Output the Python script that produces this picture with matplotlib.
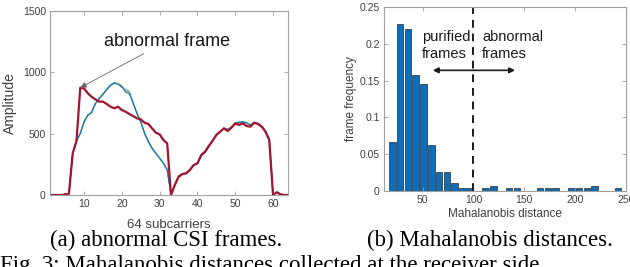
import matplotlib
matplotlib.use("Agg")
import matplotlib.pyplot as plt
import numpy as np

plt.rcParams['font.family'] = ['Liberation Sans', 'DejaVu Sans']

# ---- (a) CSI amplitudes over 64 subcarriers ----
subcarriers = list(range(1, 65))
normal_frames = [
    [0, 0, 0, 0, 5, 10, 340, 440, 505, 597, 652, 671, 747, 785, 820, 861, 896, 915, 906, 883, 856, 842,
     747, 666, 598, 503, 435, 380, 340, 299, 258, 204, 0, 81, 149, 171, 177, 204, 244, 258, 326, 353,
     399, 442, 489, 516, 543, 535, 555, 584, 590, 595, 585, 570, 590, 585, 560, 520, 455, 0, 22, 5, 0, 0],
    [0, 0, 0, 0, 4, 12, 335, 445, 500, 590, 645, 680, 740, 790, 825, 855, 890, 910, 912, 890, 850, 835,
     755, 660, 590, 510, 440, 385, 335, 305, 262, 210, 0, 78, 140, 165, 180, 210, 240, 262, 320, 358,
     405, 438, 495, 510, 548, 528, 560, 578, 585, 600, 580, 575, 585, 580, 565, 515, 448, 0, 20, 5, 0, 0],
    [0, 0, 0, 0, 6, 9, 345, 438, 510, 600, 655, 665, 750, 780, 815, 865, 900, 918, 900, 878, 860, 845,
     740, 670, 602, 498, 430, 375, 345, 295, 255, 200, 0, 85, 152, 168, 172, 200, 248, 255, 330, 350,
     395, 445, 485, 520, 540, 540, 550, 590, 595, 590, 588, 565, 595, 588, 555, 525, 460, 0, 24, 5, 0, 0],
    [0, 0, 0, 0, 5, 11, 338, 442, 498, 595, 650, 675, 745, 788, 822, 858, 893, 912, 904, 885, 838, 826,
     752, 664, 596, 506, 438, 382, 338, 302, 260, 206, 0, 80, 146, 170, 176, 206, 242, 256, 318, 345,
     392, 440, 492, 514, 545, 532, 552, 580, 592, 598, 590, 572, 588, 584, 562, 522, 452, 0, 22, 5, 0, 0],
]
normal_colors = ['#D95319', '#EDB120', '#4DBEEE', '#0072BD']
abnormal_frame = [0, 0, 0, 0, 5, 10, 340, 440, 875, 869, 829, 801, 779, 761, 761, 742, 720, 707, 720, 693,
                  679, 660, 644, 625, 617, 589, 579, 543, 508, 494, 448, 421, 0, 81, 149, 171, 177, 204,
                  244, 258, 326, 353, 399, 442, 489, 516, 543, 522, 549, 584, 571, 584, 562, 557, 589,
                  579, 557, 516, 448, 0, 22, 5, 0, 0]

# ---- (b) Mahalanobis distance histogram ----
bin_width = 7.65
bin_centers = 20.3 + bin_width * np.arange(30)
frame_freq = [0.067, 0.227, 0.220, 0.157, 0.146, 0.063, 0.026, 0.026, 0.011, 0.004,
              0.004, 0.0, 0.004, 0.007, 0.0, 0.004, 0.004, 0.0, 0.0, 0.004,
              0.004, 0.004, 0.0, 0.004, 0.004, 0.004, 0.007, 0.0, 0.0, 0.004]
threshold = 100

spine_c = '#a0a0a0'
text_c = '#404040'


def matlab_style(ax):
    for s in ax.spines.values():
        s.set_color(spine_c)
        s.set_linewidth(0.8)
    ax.tick_params(direction='in', top=True, right=True, length=3, width=0.6,
                   color=spine_c, labelcolor=text_c, labelsize=7.5, pad=3)


fig = plt.figure(figsize=(6.3, 2.67), dpi=100)

ax1 = fig.add_axes([0.0794, 0.2697, 0.378, 0.689])
for vals, c in zip(normal_frames, normal_colors):
    ax1.plot(subcarriers, vals, color=c, lw=0.75)
ax1.plot(subcarriers, abnormal_frame, color='#A2142F', lw=1.6)
ax1.set_xlim(1, 64)
ax1.set_ylim(0, 1500)
ax1.set_xticks([10, 20, 30, 40, 50, 60])
ax1.set_yticks([0, 500, 1000, 1500])
ax1.set_xlabel('64 subcarriers', fontsize=9.5, color=text_c, labelpad=7)
ax1.set_ylabel('Amplitude', fontsize=10, color=text_c, labelpad=4)
ax1.annotate('abnormal frame', xy=(9, 875), xytext=(15.3, 1255), fontsize=13,
             va='center', ha='left', color='#1a1a1a',
             arrowprops=dict(arrowstyle='-|>', color='#666666', lw=0.6,
                             mutation_scale=9, shrinkA=2, shrinkB=0))
matlab_style(ax1)

ax2 = fig.add_axes([0.6095, 0.2846, 0.384, 0.689])
ax2.bar(bin_centers, frame_freq, width=bin_width * 0.84, color='#0a6ebd',
        edgecolor='#2a2a2a', linewidth=0.5)
ax2.axvline(threshold, color='#1a1a1a', lw=1.4, ls=(0, (4, 3)))
ax2.annotate('', xy=(60, 0.164), xytext=(141, 0.164),
             arrowprops=dict(arrowstyle='<|-|>', color='#1a1a1a', lw=1.2,
                             mutation_scale=8, shrinkA=0, shrinkB=0))
ax2.text(49.4, 0.198, 'purified\nframes', fontsize=10.5, color='#1a1a1a',
         ha='left', va='center', linespacing=1.3)
ax2.text(108.5, 0.198, 'abnormal\nframes', fontsize=10.5, color='#1a1a1a',
         ha='left', va='center', linespacing=1.3)
ax2.set_xlim(12, 250)
ax2.set_ylim(0, 0.25)
ax2.set_xticks([50, 100, 150, 200, 250])
ax2.set_yticks([0, 0.05, 0.1, 0.15, 0.2, 0.25])
ax2.set_yticklabels(['0', '0.05', '0.1', '0.15', '0.2', '0.25'])
ax2.set_xlabel('Mahalanobis distance', fontsize=8.5, color=text_c, labelpad=2)
ax2.set_ylabel('frame frequency', fontsize=8.5, color=text_c, labelpad=2)
matlab_style(ax2)

serif = ['Liberation Serif', 'DejaVu Serif']
fig.text(0.2635, 0.099, '(a) abnormal CSI frames.', family=serif, fontsize=16.5,
         ha='center', va='center')
fig.text(0.778, 0.099, '(b) Mahalanobis distances.', family=serif, fontsize=16.5,
         ha='center', va='center')
fig.text(0.0, 0.004, 'Fig. 3: Mahalanobis distances collected at the receiver side.',
         family=serif, fontsize=16.5, ha='left', va='center')

fig.savefig('out.png', dpi=100)
